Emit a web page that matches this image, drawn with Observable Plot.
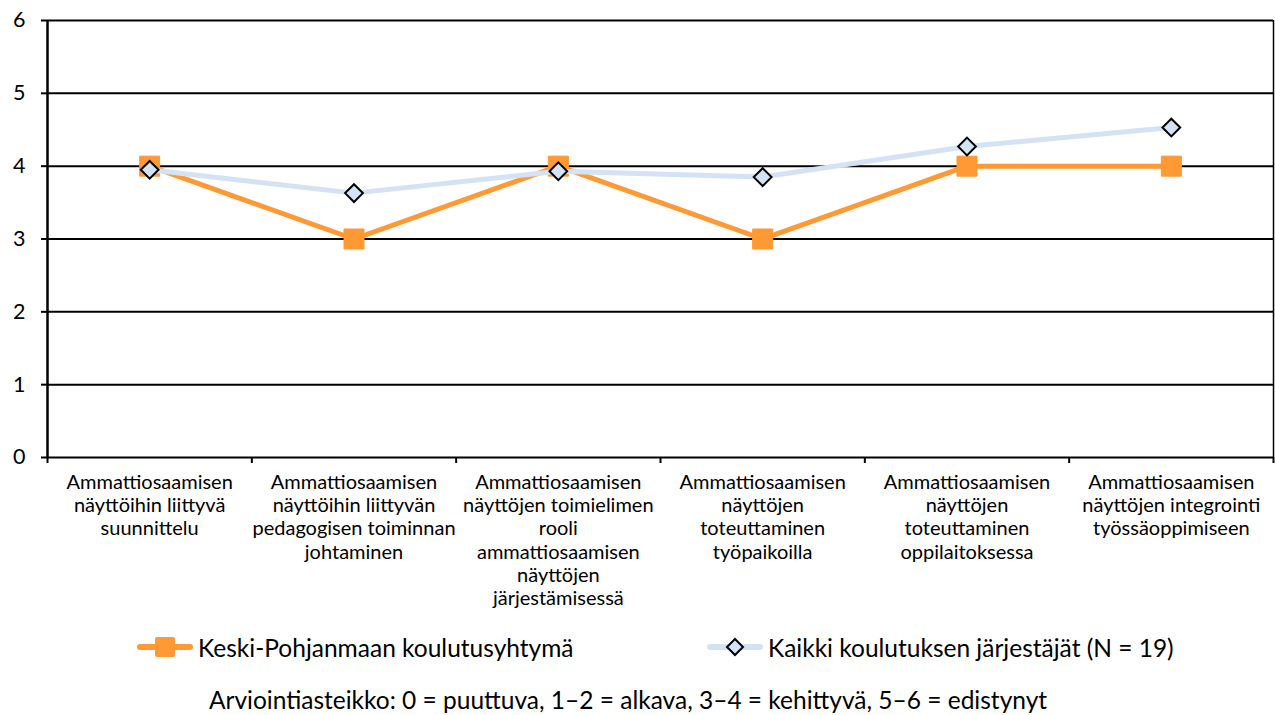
<!DOCTYPE html>
<html>
<head>
<meta charset="utf-8">
<script src="https://cdn.jsdelivr.net/npm/d3@7"></script>
<script src="https://cdn.jsdelivr.net/npm/@observablehq/plot@0.6"></script>
<style>
  html, body { margin: 0; padding: 0; background: #fff; }
  body { font-family: Lato, "Open Sans", sans-serif; color: #000; }
  #wrap { position: relative; width: 1275px; height: 715px; overflow: hidden; }
  #chart svg { display: block; }
  .leg { position: absolute; display: flex; align-items: center; font-size: 24.5px; white-space: nowrap; }
  .leg svg { display: block; margin-right: 4px; }
  #caption { position: absolute; left: 0; width: 1256px; top: 685px; text-align: center; font-size: 24.5px; white-space: nowrap; }
</style>
</head>
<body>
<div id="wrap">
  <div id="chart"></div>
  <div id="legend"></div>
  <div id="caption"></div>
</div>
<script>
const categories = [
  "Ammattiosaamisen\nnäyttöihin liittyvä\nsuunnittelu",
  "Ammattiosaamisen\nnäyttöihin liittyvän\npedagogisen toiminnan\njohtaminen",
  "Ammattiosaamisen\nnäyttöjen toimielimen\nrooli\nammattiosaamisen\nnäyttöjen\njärjestämisessä",
  "Ammattiosaamisen\nnäyttöjen\ntoteuttaminen\ntyöpaikoilla",
  "Ammattiosaamisen\nnäyttöjen\ntoteuttaminen\noppilaitoksessa",
  "Ammattiosaamisen\nnäyttöjen integrointi\ntyössäoppimiseen"
];
const seriesNames = ["Keski-Pohjanmaan koulutusyhtymä", "Kaikki koulutuksen järjestäjät (N = 19)"];
const keskiValues = [4, 3, 4, 3, 4, 4];
const kaikkiValues = [3.95, 3.63, 3.93, 3.85, 4.27, 4.53];
const yTicks = [0, 1, 2, 3, 4, 5, 6];
const captionText = "Arviointiasteikko: 0 = puuttuva, 1–2 = alkava, 3–4 = kehittyvä, 5–6 = edistynyt";

const orange = "#FF9933";
const lightBlue = "#D3E2F5";

const keskiData = keskiValues.map((v, i) => ({i, category: categories[i], value: v}));
const kaikkiData = kaikkiValues.map((v, i) => ({i, category: categories[i], value: v}));
const nCat = categories.length;
const boundaries = d3.range(nCat + 1);

const chart = Plot.plot({
  width: 1275,
  height: 625,
  marginLeft: 47,
  marginRight: 2,
  marginTop: 20,
  marginBottom: 168,
  style: {fontFamily: "Lato, 'Open Sans', sans-serif", color: "#000", background: "transparent"},
  x: {domain: [0, nCat], axis: null, label: null},
  y: {domain: [0, 6], axis: null, label: null},
  marks: [
    Plot.ruleY(yTicks, {stroke: "#000", strokeWidth: 2}),
    Plot.ruleX([0], {stroke: "#000", strokeWidth: 2.5}),
    Plot.ruleX([nCat], {stroke: "#000", strokeWidth: 1.5}),
    Plot.axisY({ticks: yTicks, tickSize: 6, tickPadding: 16, fontSize: 21.5, strokeWidth: 2, label: null, tickFormat: d => String(d)}),
    Plot.axisX({ticks: boundaries, tickSize: 6, tickFormat: () => "", strokeWidth: 2, anchor: "bottom", label: null}),
    Plot.text(categories, {x: (d, i) => i + 0.5, y: () => 0, dy: 15, lineAnchor: "top", fontSize: 20, lineHeight: 1.16, fill: "#000"}),
    Plot.line(keskiData, {x: d => d.i + 0.5, y: "value", stroke: orange, strokeWidth: 5}),
    Plot.dot(keskiData, {x: d => d.i + 0.5, y: "value", symbol: "square", r: 11.3, fill: orange, stroke: orange, strokeWidth: 1, strokeLinejoin: "round"}),
    Plot.line(kaikkiData, {x: d => d.i + 0.5, y: "value", stroke: lightBlue, strokeWidth: 5}),
    Plot.dot(kaikkiData, {x: d => d.i + 0.5, y: "value", symbol: "diamond2", r: 8, fill: lightBlue, stroke: "#000", strokeWidth: 2})
  ]
});
document.getElementById("chart").appendChild(chart);

// Legend
const legend = document.getElementById("legend");
function addLegend(left, name, kind) {
  const div = document.createElement("div");
  div.className = "leg";
  div.style.left = left + "px";
  div.style.top = "632px";
  const ns = "http://www.w3.org/2000/svg";
  const sw = document.createElementNS(ns, "svg");
  sw.setAttribute("width", 58);
  sw.setAttribute("height", 30);
  const line = document.createElementNS(ns, "line");
  line.setAttribute("x1", 4); line.setAttribute("x2", 54);
  line.setAttribute("y1", 15); line.setAttribute("y2", 15);
  line.setAttribute("stroke-width", 6);
  line.setAttribute("stroke-linecap", "round");
  sw.appendChild(line);
  if (kind === "square") {
    line.setAttribute("stroke", orange);
    const r = document.createElementNS(ns, "rect");
    r.setAttribute("x", 19); r.setAttribute("y", 5); r.setAttribute("width", 20); r.setAttribute("height", 20);
    r.setAttribute("rx", 2);
    r.setAttribute("fill", orange);
    sw.appendChild(r);
  } else {
    line.setAttribute("stroke", lightBlue);
    const p = document.createElementNS(ns, "path");
    p.setAttribute("d", "M29,7 L37,15 L29,23 L21,15 Z");
    p.setAttribute("fill", lightBlue);
    p.setAttribute("stroke", "#000");
    p.setAttribute("stroke-width", 2);
    sw.appendChild(p);
  }
  div.appendChild(sw);
  const t = document.createElement("span");
  t.textContent = name;
  div.appendChild(t);
  legend.appendChild(div);
}
addLegend(136, seriesNames[0], "square");
addLegend(706, seriesNames[1], "diamond");
document.getElementById("caption").textContent = captionText;
</script>
</body>
</html>
